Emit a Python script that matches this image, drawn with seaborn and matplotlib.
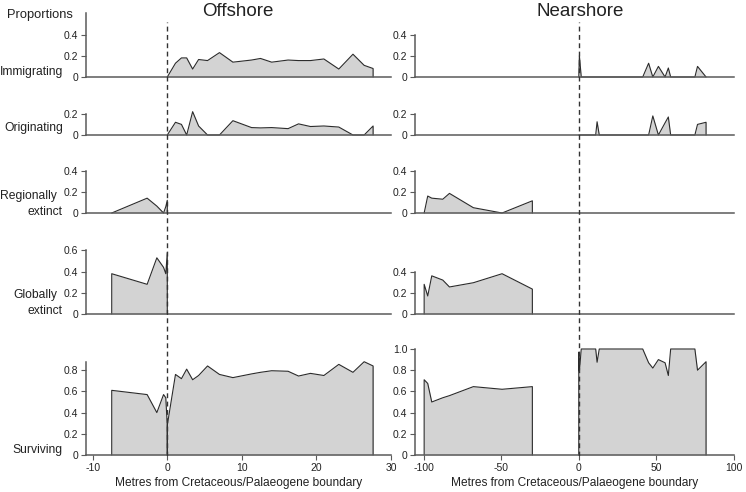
"""Proportions of immigrating, originating, extinct and surviving taxa across the K/Pg boundary."""

import matplotlib

matplotlib.use("Agg")
import matplotlib.pyplot as plt
import numpy as np
import seaborn as sns

# ---- data (metres from the boundary, proportions) ----
OFF_X_PRE = [-7.45, -2.7, -1.4, -0.5, -0.2, 0.0]
OFF_X_POST = [0.0, 1.1, 1.9, 2.6, 3.4, 4.2, 5.4, 7.0, 8.8, 11.3, 12.5, 14.0,
              16.2, 17.6, 19.2, 21.0, 23.0, 24.9, 26.4, 27.6]

OFF_IMMIGRATING = [0.0, 0.13, 0.18, 0.18, 0.075, 0.165, 0.155, 0.23, 0.14, 0.16,
                   0.175, 0.14, 0.16, 0.155, 0.155, 0.17, 0.075, 0.215, 0.11, 0.08]
OFF_ORIGINATING = [0.0, 0.12, 0.10, 0.0, 0.22, 0.085, 0.0, 0.0, 0.135, 0.07,
                   0.067, 0.07, 0.06, 0.105, 0.08, 0.085, 0.075, 0.0, 0.0, 0.085]
OFF_REGIONAL = [0.0, 0.14, 0.065, 0.0, 0.06, 0.12]
OFF_GLOBAL = [0.38, 0.28, 0.53, 0.44, 0.38, 0.58]
OFF_SURVIVING_PRE = [0.61, 0.57, 0.40, 0.57, 0.54, 0.28]
OFF_SURVIVING_POST = [0.28, 0.76, 0.72, 0.81, 0.71, 0.75, 0.84, 0.76, 0.73, 0.765,
                      0.78, 0.795, 0.79, 0.745, 0.77, 0.75, 0.855, 0.78, 0.88, 0.84]

NEAR_X_PRE = [-99.6, -97.3, -94.7, -87.6, -83.3, -67.9, -49.4, -29.9]
NEAR_X_POST = [0.0, 0.4, 1.6, 10.9, 11.8, 13.2, 41.2, 45.0, 47.7, 51.3, 55.6,
               57.7, 59.2, 74.8, 76.5, 82.0]

NEAR_IMMIGRATING = [0.0, 0.2, 0.0, 0.0, 0.0, 0.0, 0.0, 0.13, 0.0, 0.10, 0.0,
                    0.085, 0.0, 0.0, 0.10, 0.0]
NEAR_ORIGINATING = [0.0, 0.0, 0.0, 0.0, 0.125, 0.0, 0.0, 0.0, 0.18, 0.0, 0.115,
                    0.17, 0.0, 0.0, 0.10, 0.12]
NEAR_REGIONAL = [0.0, 0.16, 0.14, 0.13, 0.185, 0.05, 0.0, 0.115]
NEAR_GLOBAL = [0.28, 0.17, 0.36, 0.32, 0.255, 0.295, 0.38, 0.235]
NEAR_SURVIVING_PRE = [0.71, 0.675, 0.50, 0.54, 0.56, 0.645, 0.62, 0.645]
NEAR_SURVIVING_POST = [0.97, 0.79, 1.0, 1.0, 0.875, 1.0, 1.0, 0.87, 0.82, 0.90,
                       0.87, 0.75, 1.0, 1.0, 0.80, 0.88]

ROW_NAMES = ["Immigrating", "Originating", "Regionally\nextinct",
             "Globally\nextinct", "Surviving"]
COLUMN_TITLES = ["Offshore", "Nearshore"]
OFF_XTICKS = [-10, 0, 10, 20, 30]
NEAR_XTICKS = [-100, -50, 0, 50, 100]

# (pre-boundary segment, post-boundary segment) per row
OFF_SERIES = [
    (None, OFF_IMMIGRATING),
    (None, OFF_ORIGINATING),
    (OFF_REGIONAL, None),
    (OFF_GLOBAL, None),
    (OFF_SURVIVING_PRE, OFF_SURVIVING_POST),
]
NEAR_SERIES = [
    (None, NEAR_IMMIGRATING),
    (None, NEAR_ORIGINATING),
    (NEAR_REGIONAL, None),
    (NEAR_GLOBAL, None),
    (NEAR_SURVIVING_PRE, NEAR_SURVIVING_POST),
]

# ---- layout (pixels) ----
W, H = 746, 492
PX_PER_UNIT = 106.0
ROW_ZERO_PX = [77, 135, 213, 314, 455]
ROW_YMAX = [0.6, 0.2, 0.4, 0.6, 1.0]
OFF_SPINE_TOP = [0.6, 0.2, 0.4, 0.6, 0.88]
OFF_TICK_TOP = [0.4, 0.2, 0.4, 0.6, 0.8]
NEAR_SPINE_TOP = [0.4, 0.2, 0.4, 0.4, 1.0]
NEAR_TICK_TOP = [0.4, 0.2, 0.4, 0.4, 1.0]

COLUMNS = [
    dict(left=86, right=391, xlim=(-10.9, 30), xticks=OFF_XTICKS,
         x_pre=OFF_X_PRE, x_post=OFF_X_POST, series=OFF_SERIES,
         spine_top=OFF_SPINE_TOP, tick_top=OFF_TICK_TOP, title_x=238),
    dict(left=415, right=734, xlim=(-105.5, 100), xticks=NEAR_XTICKS,
         x_pre=NEAR_X_PRE, x_post=NEAR_X_POST, series=NEAR_SERIES,
         spine_top=NEAR_SPINE_TOP, tick_top=NEAR_TICK_TOP, title_x=580),
]

FILL = "#d3d3d3"
EDGE = "#2b2b2b"
AXIS = "#5a5a5a"
TEXT = "#222222"


def px_rect(left, top, right, bottom):
    return [left / W, 1 - bottom / H, (right - left) / W, (bottom - top) / H]


def fmt_tick(v):
    return "0" if abs(v) < 1e-9 else f"{v:.1f}"


def draw_segment(ax, xs, ys):
    ax.fill_between(xs, ys, 0, color=FILL, linewidth=0, zorder=2)
    outline_x = [xs[0]] + list(xs) + [xs[-1]]
    outline_y = [0.0] + list(ys) + [0.0]
    sns.lineplot(x=outline_x, y=outline_y, sort=False, estimator=None,
                 color=EDGE, linewidth=0.8, ax=ax, zorder=3)


sns.set_theme(style="ticks")
plt.rcParams["font.family"] = ["Liberation Sans", "DejaVu Sans"]

fig = plt.figure(figsize=(W / 100, H / 100), dpi=100)

pad_lo, pad_hi = 0.02, 0.05
for ci, col in enumerate(COLUMNS):
    for r, zero in enumerate(ROW_ZERO_PX):
        top_px = zero - (ROW_YMAX[r] + pad_hi) * PX_PER_UNIT
        bot_px = zero + pad_lo * PX_PER_UNIT
        ax = fig.add_axes(px_rect(col["left"], top_px, col["right"], bot_px))
        ax.patch.set_alpha(0)
        ax.set_xlim(col["xlim"])
        ax.set_ylim(-pad_lo, ROW_YMAX[r] + pad_hi)

        pre, post = col["series"][r]
        if pre is not None:
            draw_segment(ax, col["x_pre"], pre)
        if post is not None:
            draw_segment(ax, col["x_post"], post)

        for side in ("top", "right"):
            ax.spines[side].set_visible(False)
        ax.spines["left"].set_bounds(0, col["spine_top"][r])
        ax.spines["bottom"].set_position(("data", 0))
        ax.spines["bottom"].set_bounds(col["xlim"][0], col["xticks"][-1])
        for side in ("left", "bottom"):
            ax.spines[side].set_color(AXIS)
            ax.spines[side].set_linewidth(1.1)
            ax.spines[side].set_zorder(6)

        yt = np.arange(0, col["tick_top"][r] + 0.01, 0.2)
        ax.set_yticks(yt)
        ax.set_yticklabels([fmt_tick(v) for v in yt])
        ax.tick_params(axis="y", direction="out", length=3.5, width=0.8,
                       color=AXIS, labelsize=7.5, labelcolor=TEXT, pad=2)
        if r == len(ROW_ZERO_PX) - 1:
            ax.set_xticks(col["xticks"])
            ax.set_xticklabels([str(t) for t in col["xticks"]])
            ax.tick_params(axis="x", direction="out", length=3.5, width=0.8,
                           color=AXIS, labelsize=7.5, labelcolor=TEXT, pad=2)
        else:
            ax.set_xticks([])
        ax.set_xlabel("")
        ax.set_ylabel("")

    # dashed boundary line running through all rows
    ov = fig.add_axes(px_rect(col["left"], 22, col["right"], 456))
    ov.set_xlim(col["xlim"])
    ov.set_ylim(0, 1)
    ov.axis("off")
    ov.axvline(0, color="#333333", linewidth=1.0, linestyle=(0, (3.5, 2.5)), zorder=5)

    fig.text(col["title_x"] / W, 1 - 11 / H, COLUMN_TITLES[ci],
             ha="center", va="center", fontsize=13.5, color=TEXT)
    fig.text((col["left"] + col["right"]) / 2 / W, 1 - 483 / H,
             "Metres from Cretaceous/Palaeogene boundary",
             ha="center", va="center", fontsize=8.6, color=TEXT)

# row labels on the left
LABEL_LINES_Y = [[72], [128], [196, 212], [295, 311], [450]]
LABEL_RIGHT = [[63], [63], [57, 63], [57, 63], [63]]
for name, ys, xs in zip(ROW_NAMES, LABEL_LINES_Y, LABEL_RIGHT):
    for line, y, x in zip(name.split("\n"), ys, xs):
        fig.text(x / W, 1 - y / H, line, ha="right", va="center",
                 fontsize=8.7, color=TEXT)

fig.text(7 / W, 1 - 15 / H, "Proportions", ha="left", va="center",
         fontsize=9.3, color=TEXT)

fig.savefig("out.png", dpi=100)
